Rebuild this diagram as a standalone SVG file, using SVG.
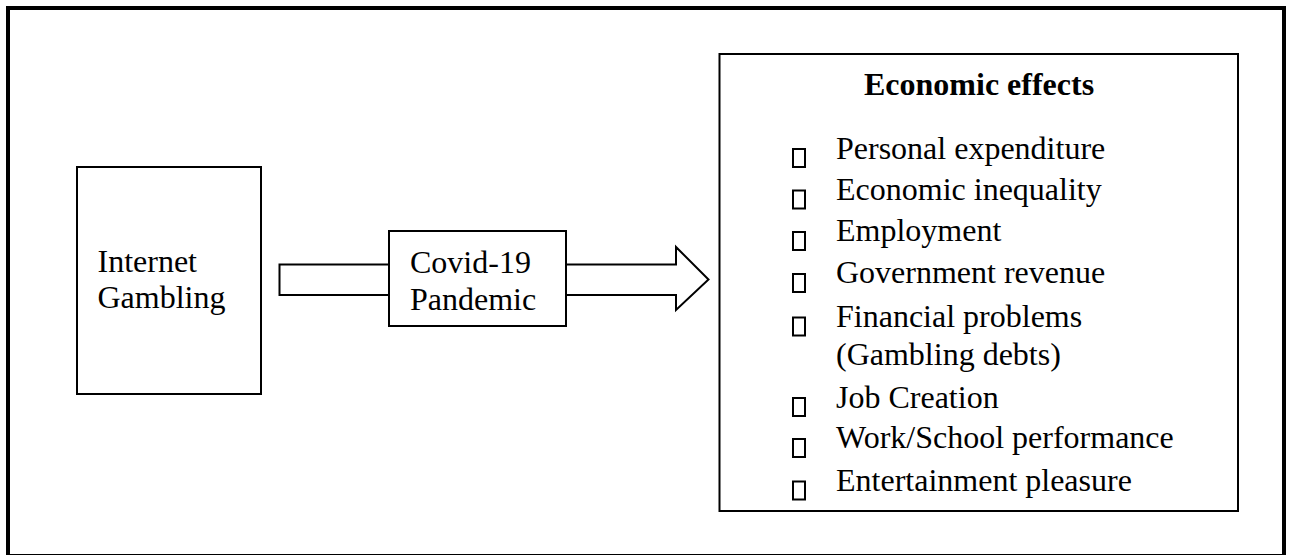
<svg xmlns="http://www.w3.org/2000/svg" width="1291" height="555" viewBox="0 0 1291 555">
  <style>
    .box { fill: #ffffff; stroke: #000000; stroke-width: 2; }
    .frame { fill: #ffffff; stroke: #000000; stroke-width: 4; }
    .txt { font-family: "Times New Roman", "Liberation Serif", Tinos, "DejaVu Serif", serif; font-size: 32px; font-weight: normal; font-style: normal; fill: #000000; }
    .title { font-weight: bold; }
    .bullet { fill: none; stroke: #000000; stroke-width: 2; }
  </style>

  <!-- outer frame -->
  <rect class="frame" x="8" y="8" width="1276" height="548"/>

  <!-- block arrow running through the middle box -->
  <g id="connectors">
    <path class="box" d="M279.5,264.5 H676 V247 L708.5,279.5 L676,310 V295 H279.5 Z"/>
  </g>

  <g id="internet-gambling">
    <rect class="box" x="77" y="167" width="184" height="227"/>
    <text class="txt" x="97.5" y="271.5">Internet</text>
    <text class="txt" x="97.5" y="308">Gambling</text>
  </g>

  <g id="covid-pandemic">
    <rect class="box" x="389" y="231" width="177" height="95"/>
    <text class="txt" x="410" y="272.5">Covid-19</text>
    <text class="txt" x="410" y="310">Pandemic</text>
  </g>

  <g id="economic-effects">
    <rect class="box" x="719.5" y="54" width="518.5" height="457"/>
    <text class="txt title" x="864" y="95">Economic effects</text>

    <rect class="bullet" x="793" y="149" width="12" height="18"/>
    <text class="txt" x="836" y="158.5">Personal expenditure</text>

    <rect class="bullet" x="793" y="190.5" width="12" height="18"/>
    <text class="txt" x="836" y="199.5">Economic inequality</text>

    <rect class="bullet" x="793" y="232" width="12" height="18"/>
    <text class="txt" x="836" y="241">Employment</text>

    <rect class="bullet" x="793" y="274" width="12" height="18"/>
    <text class="txt" x="836" y="283">Government revenue</text>

    <rect class="bullet" x="793" y="317.5" width="12" height="18"/>
    <text class="txt" x="836" y="326.5">Financial problems</text>
    <text class="txt" x="836" y="365">(Gambling debts)</text>

    <rect class="bullet" x="793" y="398" width="12" height="18"/>
    <text class="txt" x="836" y="407.5">Job Creation</text>

    <rect class="bullet" x="793" y="439" width="12" height="18"/>
    <text class="txt" x="836" y="448">Work/School performance</text>

    <rect class="bullet" x="793" y="481.5" width="12" height="18"/>
    <text class="txt" x="836" y="490.5">Entertainment pleasure</text>
  </g>
</svg>
